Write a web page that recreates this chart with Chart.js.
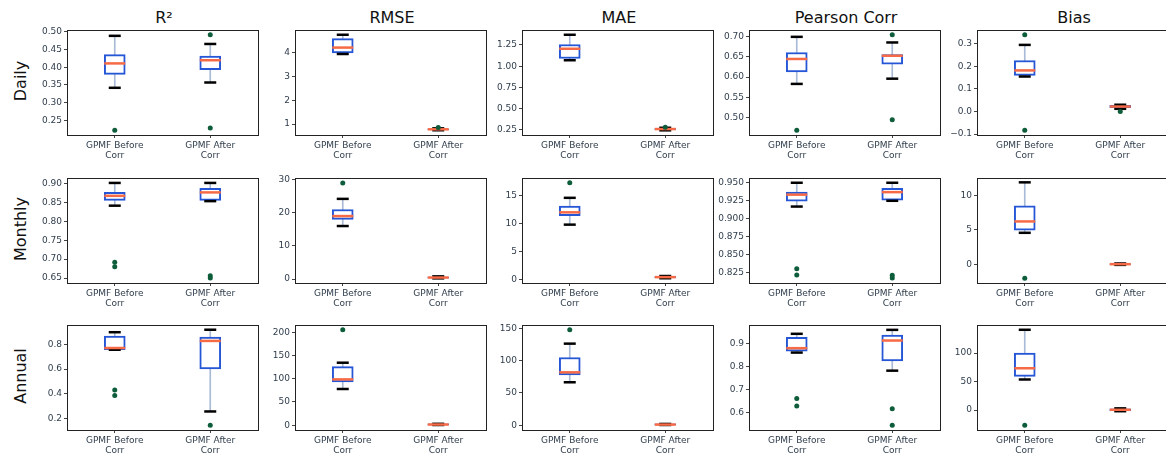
<!DOCTYPE html>
<html>
<head>
<meta charset="utf-8">
<script src="https://cdn.jsdelivr.net/npm/chart.js@4.4.1/dist/chart.umd.min.js"></script>
<style>
  html, body { margin: 0; padding: 0; background: #fff; overflow: hidden; }
  body { width: 1166px; height: 455px; position: relative; font-family: "DejaVu Sans", sans-serif; }
  .panel { position: absolute; }
  .coltitle { position: absolute; top: 8px; font-size: 16px; color: #111; text-align: center; white-space: nowrap; }
  .rowtitle { position: absolute; font-size: 16px; color: #111; white-space: nowrap; transform: translate(-50%, -50%) rotate(-90deg); }
</style>
</head>
<body>
<script>
const categories = ['GPMF Before Corr', 'GPMF After Corr']
const metrics = ['R²', 'RMSE', 'MAE', 'Pearson Corr', 'Bias']
const periods = ['Daily', 'Monthly', 'Annual']

// box stats per metric: [lower whisker, Q1, median, Q3, upper whisker]
const dailyBefore = [
    [0.342, 0.380, 0.411, 0.436, 0.489],
    [3.95, 4.00, 4.22, 4.60, 4.76],
    [1.07, 1.09, 1.205, 1.255, 1.37],
    [0.583, 0.613, 0.645, 0.661, 0.700],
    [0.155, 0.160, 0.182, 0.226, 0.295]
]
const dailyAfter = [
    [0.357, 0.393, 0.420, 0.432, 0.466],
    [0.74, 0.76, 0.78, 0.79, 0.82],
    [0.245, 0.252, 0.26, 0.265, 0.275],
    [0.596, 0.632, 0.653, 0.656, 0.686],
    [0.012, 0.017, 0.022, 0.027, 0.030]
]
const dailyOutBefore = [[0.222], [], [], [0.468], [-0.083, 0.34]]
const dailyOutAfter = [[0.228, 0.492], [0.86], [0.28], [0.494, 0.705], [0.0]]

const monthlyBefore = [
    [0.841, 0.855, 0.867, 0.876, 0.901],
    [16.0, 18.0, 19.0, 21.0, 24.2],
    [9.8, 11.4, 12.0, 13.1, 14.6],
    [0.917, 0.9245, 0.9335, 0.937, 0.950],
    [4.55, 4.93, 6.2, 8.45, 11.87]
]
const monthlyAfter = [
    [0.853, 0.855, 0.876, 0.887, 0.901],
    [0.2, 0.3, 0.45, 0.6, 0.8],
    [0.2, 0.3, 0.4, 0.5, 0.6],
    [0.925, 0.926, 0.937, 0.9424, 0.950],
    [-0.1, -0.05, 0.0, 0.05, 0.1]
]
const monthlyOutBefore = [[0.68, 0.692], [29.0], [17.3], [0.822, 0.8307], [-2.03]]
const monthlyOutAfter = [[0.65, 0.656], [], [], [0.818, 0.8217], []]

const annualBefore = [
    [0.755, 0.755, 0.769, 0.865, 0.896],
    [78, 93, 98.7, 126.3, 134.6],
    [66.6, 78, 82, 105, 126.5],
    [0.86, 0.866, 0.879, 0.926, 0.941],
    [53.7, 59.3, 73.4, 100, 141]
]
const annualAfter = [
    [0.259, 0.60, 0.826, 0.857, 0.916],
    [0.5, 0.5, 1.5, 3, 3],
    [0.4, 0.4, 1, 2, 2],
    [0.782, 0.824, 0.912, 0.935, 0.958],
    [-2, -1, 0.5, 2, 3]
]
const annualOutBefore = [[0.388, 0.432], [205.5], [148], [0.63, 0.662], [-26.6]]
const annualOutAfter = [[0.148], [], [], [0.547, 0.618], []]

// y axis limits and tick labels
const dailyLimits = [[0.2085, 0.5055], [0.54, 4.96], [0.19, 1.426], [0.456, 0.717], [-0.104, 0.361]]
const monthlyLimits = [[0.637, 0.914], [-1.2, 30.5], [-0.65, 18.15], [0.811, 0.9566], [-2.73, 12.5]]
const annualLimits = [[0.11, 0.954], [-10.3, 215.8], [-7.4, 155.4], [0.526, 0.979], [-35, 149.4]]

const dailyTicks = [
    ['0.25', '0.30', '0.35', '0.40', '0.45', '0.50'],
    ['1', '2', '3', '4'],
    ['0.25', '0.50', '0.75', '1.00', '1.25'],
    ['0.50', '0.55', '0.60', '0.65', '0.70'],
    ['-0.1', '0.0', '0.1', '0.2', '0.3']
]
const monthlyTicks = [
    ['0.65', '0.70', '0.75', '0.80', '0.85', '0.90'],
    ['0', '10', '20', '30'],
    ['0', '5', '10', '15'],
    ['0.825', '0.850', '0.875', '0.900', '0.925', '0.950'],
    ['0', '5', '10']
]
const annualTicks = [
    ['0.2', '0.4', '0.6', '0.8'],
    ['0', '50', '100', '150', '200'],
    ['0', '50', '100', '150'],
    ['0.6', '0.7', '0.8', '0.9'],
    ['0', '50', '100']
]

const rowsBefore = [dailyBefore, monthlyBefore, annualBefore]
const rowsAfter = [dailyAfter, monthlyAfter, annualAfter]
const rowsOutBefore = [dailyOutBefore, monthlyOutBefore, annualOutBefore]
const rowsOutAfter = [dailyOutAfter, monthlyOutAfter, annualOutAfter]
const rowsLimits = [dailyLimits, monthlyLimits, annualLimits]
const rowsTicks = [dailyTicks, monthlyTicks, annualTicks]

// layout of the plot areas
const plotLefts = [67, 295, 522, 749, 977]
const plotTops = [27, 175, 322]
const plotWidth = 194
const plotHeight = 108
const axisW = 50
const axisH = 35
const padTop = 10
const padRight = 10

const boxColor = '#2456d6'
const medianColor = '#f66a45'
const whiskerColor = '#a9bad6'
const outlierColor = '#0d5c3a'
const textColor = '#2f3d4c'

const framePlugin = {
    id: 'frame',
    afterDraw(chart) {
        const a = chart.chartArea
        const ctx = chart.ctx
        ctx.save()
        ctx.strokeStyle = '#222'
        ctx.lineWidth = 1
        ctx.strokeRect(Math.round(a.left) + 0.5, Math.round(a.top) + 0.5, Math.round(a.right - a.left), Math.round(a.bottom - a.top))
        ctx.restore()
    }
}

function splitLabel(label) {
    const i = label.lastIndexOf(' ')
    return [label.slice(0, i), label.slice(i + 1)]
}

function buildPanel(r, c) {
    const div = document.createElement('div')
    div.className = 'panel'
    div.style.left = (plotLefts[c] - axisW) + 'px'
    div.style.top = (plotTops[r] - padTop) + 'px'
    div.style.width = (plotWidth + axisW + padRight) + 'px'
    div.style.height = (plotHeight + padTop + axisH) + 'px'
    document.body.appendChild(div)
    const canvas = document.createElement('canvas')
    div.appendChild(canvas)

    const b = rowsBefore[r][c]
    const a = rowsAfter[r][c]
    const tickLabels = rowsTicks[r][c]
    const limits = rowsLimits[r][c]

    const caps = [
        { x: categories[0], y: b[0] }, { x: categories[0], y: b[4] },
        { x: categories[1], y: a[0] }, { x: categories[1], y: a[4] }
    ]
    const medians = [{ x: categories[0], y: b[2] }, { x: categories[1], y: a[2] }]
    const outliers = rowsOutBefore[r][c].map(v => ({ x: categories[0], y: v }))
        .concat(rowsOutAfter[r][c].map(v => ({ x: categories[1], y: v })))

    new Chart(canvas, {
        type: 'bar',
        data: {
            labels: categories,
            datasets: [
                {
                    // whiskers
                    data: [[b[0], b[4]], [a[0], a[4]]],
                    backgroundColor: whiskerColor,
                    barThickness: 1,
                    grouped: false,
                    order: 5
                },
                {
                    // boxes
                    data: [[b[1], b[3]], [a[1], a[3]]],
                    backgroundColor: '#fff',
                    borderColor: boxColor,
                    borderWidth: 2,
                    borderSkipped: false,
                    barThickness: 21,
                    grouped: false,
                    order: 4
                },
                {
                    type: 'line',
                    data: caps,
                    showLine: false,
                    pointStyle: 'line',
                    pointRadius: 6,
                    borderColor: '#000',
                    pointBorderWidth: 2.5,
                    clip: false,
                    order: 3
                },
                {
                    type: 'line',
                    data: medians,
                    showLine: false,
                    pointStyle: 'line',
                    pointRadius: 10.5,
                    borderColor: medianColor,
                    pointBorderWidth: 2.5,
                    clip: false,
                    order: 2
                },
                {
                    type: 'line',
                    data: outliers,
                    showLine: false,
                    pointStyle: 'circle',
                    pointRadius: 2.5,
                    backgroundColor: outlierColor,
                    borderColor: outlierColor,
                    pointBorderWidth: 0,
                    clip: false,
                    order: 1
                }
            ]
        },
        options: {
            responsive: true,
            maintainAspectRatio: false,
            animation: false,
            events: [],
            layout: { padding: { top: padTop, right: padRight, left: 0, bottom: 0 } },
            plugins: { legend: { display: false }, tooltip: { enabled: false } },
            scales: {
                x: {
                    offset: true,
                    grid: { display: true, drawOnChartArea: false, drawTicks: true, tickLength: 3, offset: false, color: '#444' },
                    border: { display: false },
                    ticks: {
                        autoSkip: false,
                        maxRotation: 0,
                        padding: 2,
                        color: textColor,
                        font: { family: 'DejaVu Sans', size: 9, lineHeight: 1.15 },
                        callback: (v, i) => splitLabel(categories[i])
                    },
                    afterFit(scale) {
                        scale.height = axisH
                        scale.paddingLeft = 0
                        scale.paddingRight = 0
                    }
                },
                y: {
                    min: limits[0],
                    max: limits[1],
                    grid: { display: true, drawOnChartArea: false, drawTicks: true, tickLength: 3, color: '#444' },
                    border: { display: false },
                    ticks: {
                        padding: 2,
                        color: textColor,
                        font: { family: 'DejaVu Sans', size: 9 },
                        callback: (v, i) => tickLabels[i].replace('-', '\u2212')
                    },
                    afterBuildTicks(scale) {
                        scale.ticks = tickLabels.map(t => ({ value: parseFloat(t) }))
                    },
                    afterFit(scale) {
                        scale.width = axisW
                        scale.paddingTop = 0
                        scale.paddingBottom = 0
                    }
                }
            }
        },
        plugins: [framePlugin]
    })
}

// column titles
metrics.forEach((m, c) => {
    const t = document.createElement('div')
    t.className = 'coltitle'
    t.textContent = m
    t.style.left = plotLefts[c] + 'px'
    t.style.width = plotWidth + 'px'
    document.body.appendChild(t)
})

// row titles
periods.forEach((p, r) => {
    const t = document.createElement('div')
    t.className = 'rowtitle'
    t.textContent = p
    t.style.left = '20px'
    t.style.top = (plotTops[r] + plotHeight / 2) + 'px'
    document.body.appendChild(t)
})

for (let r = 0; r < periods.length; r++) {
    for (let c = 0; c < metrics.length; c++) {
        buildPanel(r, c)
    }
}
</script>
</body>
</html>
